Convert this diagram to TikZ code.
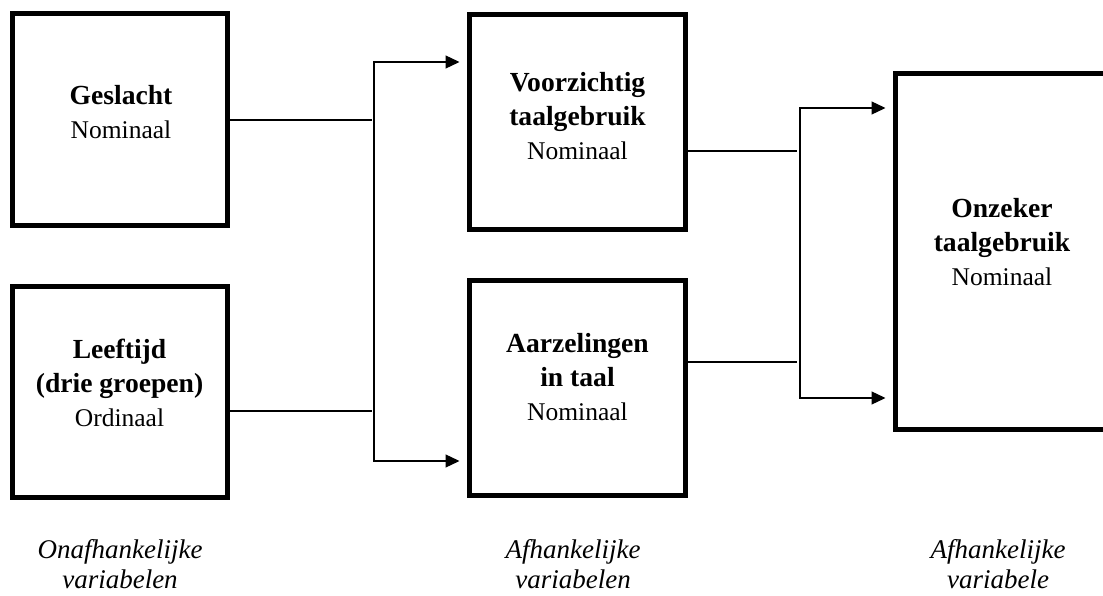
\documentclass[tikz,border=0pt]{standalone}
\usepackage{fontspec}
\setmainfont{Liberation Serif}
\usetikzlibrary{arrows.meta}
\tikzset{
  var/.style={draw, line width=5pt, minimum width=215pt, minimum height=212pt, inner sep=0pt},
  lbl/.style={align=center, inner sep=0pt, font=\fontsize{27.6pt}{34pt}\selectfont\bfseries},
  coltext/.style={align=center, inner sep=0pt, font=\fontsize{27pt}{30pt}\selectfont\itshape},
  con/.style={line width=1.3pt},
  fork/.style={line width=1.3pt, {Triangle[length=14pt,width=13pt]}-{Triangle[length=14pt,width=13pt]}, shorten <=7.5pt, shorten >=7.5pt}
}
\newcommand{\scl}[1]{{\fontsize{25.5pt}{34pt}\selectfont\mdseries #1}}
\begin{document}
\begin{tikzpicture}[x=1pt,y=-1pt]
\useasboundingbox (0,0) rectangle (1103,596);
% boxes
\node[var] (G) at (119.5,120) {};
\node[var, minimum height=211pt] (L) at (119.5,391.5) {};
\node[var, minimum width=216pt, minimum height=215pt] (V) at (577.5,122) {};
\node[var, minimum width=216pt, minimum height=215pt] (A) at (577.5,387.5) {};
\node[var, minimum height=355pt] (O) at (1003,251.5) {};
% texts
\node[lbl] (Gt) at (121,112.5) {Geslacht\\\scl{Nominaal}};
\node[lbl] (Lt) at (119.5,382.5) {Leeftijd\\(drie groepen)\\\scl{Ordinaal}};
\node[lbl] (Vt) at (577.5,116) {Voorzichtig\\taalgebruik\\\scl{Nominaal}};
\node[lbl] (At) at (577.5,377.5) {Aarzelingen\\in taal\\\scl{Nominaal}};
\node[lbl] (Ot) at (1002,242.5) {Onzeker\\taalgebruik\\\scl{Nominaal}};
% forks
\coordinate (P1) at (374,62);
\coordinate (P2) at (374,461);
\coordinate (Q1) at (800,108);
\coordinate (Q2) at (800,398);
\coordinate (LJ) at (371.5,411);
\coordinate (VJ) at (797,151);
\coordinate (AJ) at (797,362);
\draw[con] (G.east) -- ([xshift=-2.5pt]G.east -| P1);
\draw[con] (L.east |- LJ) -- (LJ);
\draw[con] (V.east |- VJ) -- (VJ);
\draw[con] (A.east |- AJ) -- (AJ);
\draw[fork] (P1 -| V.west) -- (P1) -- (P2) -- (P2 -| A.west);
\draw[fork] (Q1 -| O.west) -- (Q1) -- (Q2) -- (Q2 -| O.west);
% column captions
\node[coltext] (C1) at (120,564) {Onafhankelijke\\variabelen};
\node[coltext] (C2) at (573,564) {Afhankelijke\\variabelen};
\node[coltext] (C3) at (998,564) {Afhankelijke\\variabele};
\end{tikzpicture}
\end{document}
